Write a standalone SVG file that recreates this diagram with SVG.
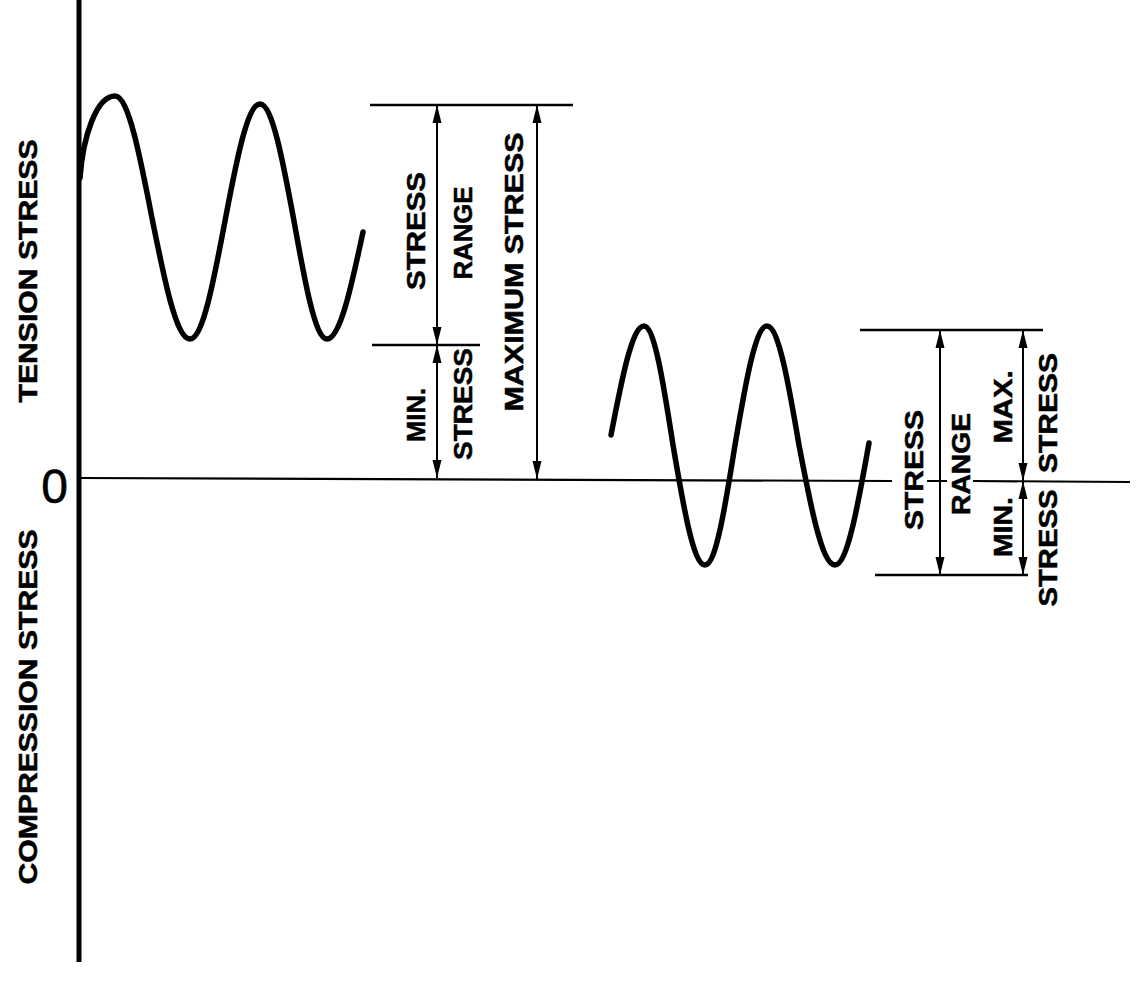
<svg xmlns="http://www.w3.org/2000/svg" width="1137" height="986" viewBox="0 0 1137 986">
<style>
.lbl{font-family:"Liberation Sans",Arial,sans-serif;font-weight:bold;font-size:25px;fill:#000;stroke:#000;stroke-width:0.5}
.zero{font-family:"Liberation Sans",Arial,sans-serif;font-size:48px;fill:#000;stroke:#000;stroke-width:0.6}
.wave{fill:none;stroke:#000;stroke-width:5.5;stroke-linecap:round;stroke-linejoin:round}
.ext{stroke:#000;stroke-width:2.5;fill:none}
.dim{stroke:#000;stroke-width:2;fill:none;marker-start:url(#ah);marker-end:url(#ah)}
.axis{stroke:#000;fill:none}
</style>
<defs>
<marker id="ah" viewBox="0 0 18 10" refX="18" refY="5" markerWidth="18" markerHeight="10" markerUnits="userSpaceOnUse" orient="auto-start-reverse">
<path d="M0,0.5 L18,5 L0,9.5 z" fill="#000"/>
</marker>
</defs>
<rect width="1137" height="986" fill="#fff"/>

<g id="axes">
<line class="axis" x1="79" y1="0" x2="79" y2="962" stroke-width="5"/>
<path class="axis" stroke-width="2.2" d="M79,478 L892,481 M927,481 L947,481 M973,481 L1130,482"/>
</g>

<g id="axis-labels">
<text class="lbl" transform="translate(37,271) rotate(-90)" text-anchor="middle" textLength="263" lengthAdjust="spacingAndGlyphs">TENSION STRESS</text>
<text class="lbl" transform="translate(37,707) rotate(-90)" text-anchor="middle" textLength="355" lengthAdjust="spacingAndGlyphs">COMPRESSION STRESS</text>
<text class="zero" x="54.5" y="503" text-anchor="middle">0</text>
</g>

<g id="wave-1">
<path class="wave" d="M80,178 C83,135 97,96 115,96 C128.4,96 139.9,155.5 152,218 C164.4,280 176.2,339 190,339 C202.7,339 213.6,281.5 225,221 C236.4,161.1 247.3,104 260,104 C272.3,104 282.9,161.1 294,221 C304.8,281.5 315.1,339 327,339 C340,339 351.3,287 363,232"/>
</g>

<g id="wave-2">
<path class="wave" d="M611,435 C621.8,379.2 632.1,326 644,326 C654.5,326 663.5,384 673,445 C683.4,506.5 693.4,565 705,565 C715.9,565 725.2,506.5 735,445 C745.4,384 755.4,326 767,326 C778.6,326 788.6,384 799,445 C810.7,506.5 822,565 835,565 C847.3,565 857.9,505.5 869,443"/>
</g>

<g id="connectors">
<line class="ext" x1="370" y1="105" x2="573" y2="105"/>
<line class="ext" x1="372" y1="345" x2="480" y2="345"/>
<line class="dim" x1="437" y1="105" x2="437" y2="345"/>
<line class="dim" x1="437" y1="345" x2="437" y2="478"/>
<line class="dim" x1="537" y1="105" x2="537" y2="479"/>
<line class="ext" x1="860" y1="330" x2="1043" y2="330"/>
<line class="ext" x1="875" y1="575" x2="1028" y2="575"/>
<line class="dim" x1="940" y1="330" x2="940" y2="575"/>
<line class="dim" x1="1023" y1="330" x2="1023" y2="481"/>
<line class="dim" x1="1023" y1="481" x2="1023" y2="575"/>
</g>

<g id="block-1-labels">
<text class="lbl" transform="translate(425,231) rotate(-90)" text-anchor="middle" textLength="118" lengthAdjust="spacingAndGlyphs">STRESS</text>
<text class="lbl" transform="translate(472,233) rotate(-90)" text-anchor="middle" textLength="93" lengthAdjust="spacingAndGlyphs">RANGE</text>
<text class="lbl" transform="translate(523,272) rotate(-90)" text-anchor="middle" textLength="279" lengthAdjust="spacingAndGlyphs">MAXIMUM STRESS</text>
<text class="lbl" transform="translate(425,415) rotate(-90)" text-anchor="middle" textLength="54" lengthAdjust="spacingAndGlyphs">MIN.</text>
<text class="lbl" transform="translate(472,404) rotate(-90)" text-anchor="middle" textLength="112" lengthAdjust="spacingAndGlyphs">STRESS</text>
</g>

<g id="block-2-labels">
<text class="lbl" transform="translate(923,470) rotate(-90)" text-anchor="middle" textLength="120" lengthAdjust="spacingAndGlyphs">STRESS</text>
<text class="lbl" transform="translate(970,464) rotate(-90)" text-anchor="middle" textLength="102" lengthAdjust="spacingAndGlyphs">RANGE</text>
<text class="lbl" transform="translate(1012,407) rotate(-90)" text-anchor="middle" textLength="73" lengthAdjust="spacingAndGlyphs">MAX.</text>
<text class="lbl" transform="translate(1012,527) rotate(-90)" text-anchor="middle" textLength="60" lengthAdjust="spacingAndGlyphs">MIN.</text>
<text class="lbl" transform="translate(1057,413) rotate(-90)" text-anchor="middle" textLength="120" lengthAdjust="spacingAndGlyphs">STRESS</text>
<text class="lbl" transform="translate(1057,548) rotate(-90)" text-anchor="middle" textLength="117" lengthAdjust="spacingAndGlyphs">STRESS</text>
</g>
</svg>
